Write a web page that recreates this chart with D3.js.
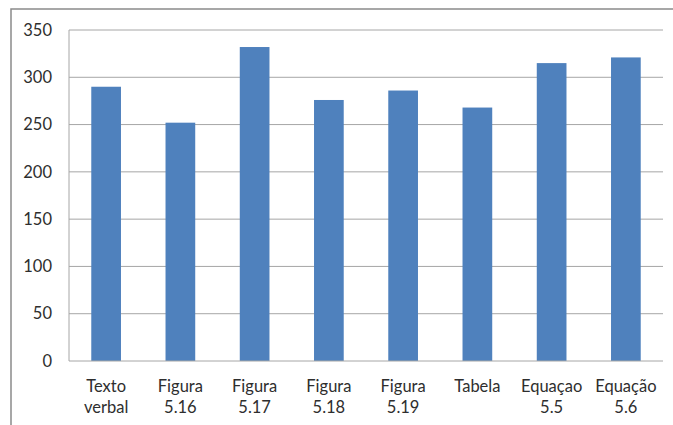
<!DOCTYPE html>
<html><head><meta charset="utf-8">
<script src="https://cdn.jsdelivr.net/npm/d3@7"></script>
<style>body{margin:0;background:#fff}svg{display:block}</style>
</head><body>
<script>
const categories = [["Texto","verbal"],["Figura","5.16"],["Figura","5.17"],["Figura","5.18"],["Figura","5.19"],["Tabela"],["Equaçao","5.5"],["Equação","5.6"]];
const values = [290, 252, 332, 276, 286, 268, 315, 321];
const yTicks = [0, 50, 100, 150, 200, 250, 300, 350];

(function() {
const W = 673, H = 425;
const svg = d3.select("body").append("svg").attr("width", W).attr("height", H);
const font = "Lato, 'Open Sans', sans-serif";

// outer frame
svg.append("rect").attr("x", 11).attr("y", 9).attr("width", W).attr("height", H)
  .attr("fill", "none").attr("stroke", "#8a8a8a").attr("stroke-width", 1.5);

const pl = 69, pr = 663, pt = 30, pb = 361;
const x = d3.scaleBand().domain(d3.range(categories.length)).range([pl, pr]).paddingInner(0.6).paddingOuter(0.3);
const y = d3.scaleLinear().domain([0, 350]).range([pb, pt]);

// gridlines
svg.append("g").selectAll("line").data(yTicks.filter(d => d > 0)).join("line")
  .attr("x1", pl).attr("x2", pr).attr("y1", d => y(d)).attr("y2", d => y(d))
  .attr("stroke", "#a6a6a6").attr("stroke-width", 1);

// bars
svg.append("g").selectAll("rect").data(values).join("rect")
  .attr("x", (d, i) => x(i)).attr("width", x.bandwidth())
  .attr("y", d => y(d)).attr("height", d => y(0) - y(d))
  .attr("fill", "#4f81bd");

// axes lines
svg.append("line").attr("x1", pl).attr("x2", pr).attr("y1", y(0)).attr("y2", y(0)).attr("stroke", "#a6a6a6");
svg.append("line").attr("x1", pl).attr("x2", pl).attr("y1", pt).attr("y2", y(0)).attr("stroke", "#a6a6a6");

// y labels
svg.append("g").selectAll("text").data(yTicks).join("text")
  .attr("x", 52).attr("y", d => y(d)).attr("dy", "0.35em").attr("text-anchor", "end")
  .attr("font-family", font).attr("font-size", 16.5).attr("fill", "#2e2e2e")
  .text(d => d);

// x labels
const xl = svg.append("g").selectAll("text").data(categories).join("text")
  .attr("x", (d, i) => x(i) + x.bandwidth() / 2).attr("y", 392)
  .attr("text-anchor", "middle").attr("font-family", font).attr("font-size", 16.5).attr("fill", "#2e2e2e");
xl.selectAll("tspan").data(d => d).join("tspan")
  .attr("x", function() { return this.parentNode.getAttribute("x"); })
  .attr("dy", (d, i) => i === 0 ? 0 : 21).text(d => d);
})();
</script>
</body></html>
